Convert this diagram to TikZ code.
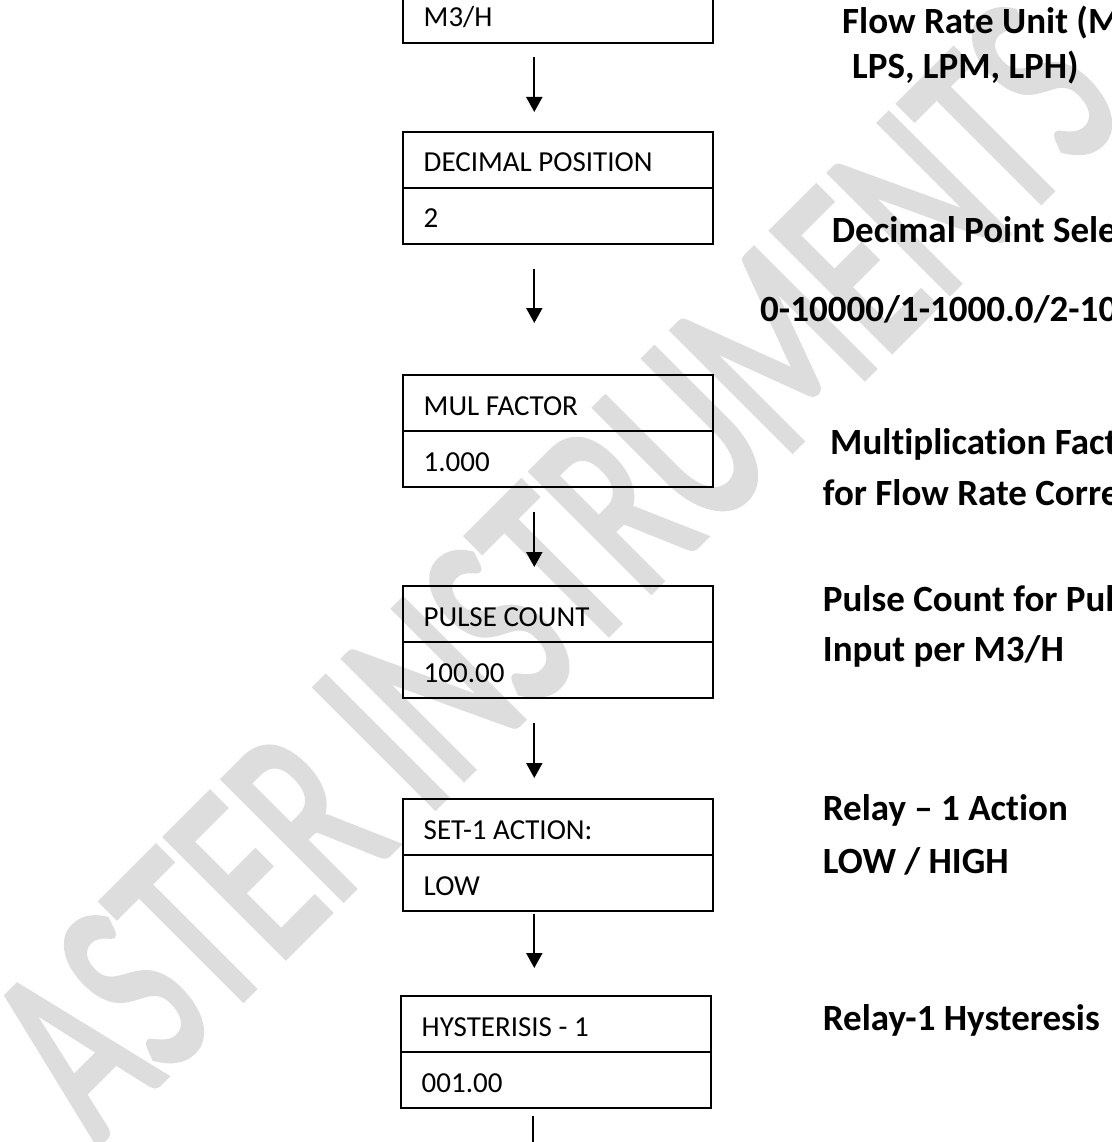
\documentclass[tikz,border=0pt]{standalone}
\usepackage{fontspec}
\setmainfont{Carlito}[Ligatures=NoCommon]
\newfontfamily\markfont{Carlito}[FakeBold=3]
\usepackage{graphicx}
\usetikzlibrary{positioning,arrows.meta}
\definecolor{wmgray}{RGB}{221,221,221}

\begin{document}
\begin{tikzpicture}[x=1pt,y=1pt,
    cell/.style={draw,line width=2pt,outer sep=0pt,inner xsep=21pt,inner ysep=0pt,text width=268pt,align=flush left,minimum height=56pt,text height=30pt,text depth=6pt,font=\fontsize{29}{34}\selectfont},
    note/.style={anchor=base west,inner sep=0pt,font=\bfseries\fontsize{37}{44}\selectfont},
    flow/.style={line width=2pt,-{Triangle[width=16pt,length=15pt]}}]
\useasboundingbox (0,0) rectangle (1111,-1142);
\node[anchor=base west,rotate=45,inner sep=0pt,text=wmgray,font=\markfont\fontsize{167}{170}\selectfont] (mark) at (97,-1144) {\scalebox{1}[1.56]{ASTER INSTRUMENTS}};

\node[cell] (v1) at (557.7,-14.7) {M3/H};
\node[cell,below=89pt of v1] (t2) {DECIMAL POSITION};
\node[cell,below=0pt of t2] (v2) {2};
\node[cell,below=131.3pt of v2] (t3) {MUL FACTOR};
\node[cell,below=0pt of t3] (v3) {1.000};
\node[cell,below=99pt of v3] (t4) {PULSE COUNT};
\node[cell,below=0pt of t4] (v4) {100.00};
\node[cell,below=101pt of v4] (t5) {SET-1 ACTION:};
\node[cell,below=0pt of t5] (v5) {LOW};
\node[cell,below=85pt of v5,xshift=-2pt] (t6) {HYSTERISIS - 1};
\node[cell,below=0pt of t6] (v6) {001.00};

\draw[flow,shorten <=14.3pt,shorten >=19.7pt] ([xshift=-23.4pt]v1.south) -- ([xshift=-23.4pt]t2.north);
\draw[flow,shorten <=25.3pt,shorten >=52pt] ([xshift=-23.4pt]v2.south) -- ([xshift=-23.4pt]t3.north);
\draw[flow,shorten <=25pt,shorten >=19pt] ([xshift=-23.4pt]v3.south) -- ([xshift=-23.4pt]t4.north);
\draw[flow,shorten <=25pt,shorten >=21pt] ([xshift=-23.4pt]v4.south) -- ([xshift=-23.4pt]t5.north);
\draw[flow,shorten <=3pt,shorten >=28pt] ([xshift=-23.4pt]v5.south) -- ([xshift=-21.4pt]t6.north);
\coordinate (more) at ([xshift=-22.7pt,yshift=-40pt]v6.south);
\draw[line width=2pt,shorten <=8pt] ([xshift=-22.7pt]v6.south) -- (more);

\node[note] (unitnote1) at (842,-33.3) {Flow Rate Unit (M};
\node[note] (unitnote2) at (852,-79) {LPS, LPM, LPH)};
\node[note] (dpnote1) at (831.7,-242) {Decimal Point Sele};
\node[note] (dpnote2) at (760,-321.7) {0-10000/1-1000.0/2-10};
\node[note] (mulnote1) at (830,-454) {Multiplication Fact};
\node[note] (mulnote2) at (822.7,-505) {for Flow Rate Corre};
\node[note] (pulsenote1) at (822.7,-611.7) {Pulse Count for Pul};
\node[note] (pulsenote2) at (822.7,-661.7) {Input per M3/H};
\node[note] (relaynote1) at (822.7,-820) {Relay – 1 Action};
\node[note] (relaynote2) at (822.7,-873.3) {LOW / HIGH};
\node[note] (hysnote) at (822.7,-1030) {Relay-1 Hysteresis};
\end{tikzpicture}
\end{document}
